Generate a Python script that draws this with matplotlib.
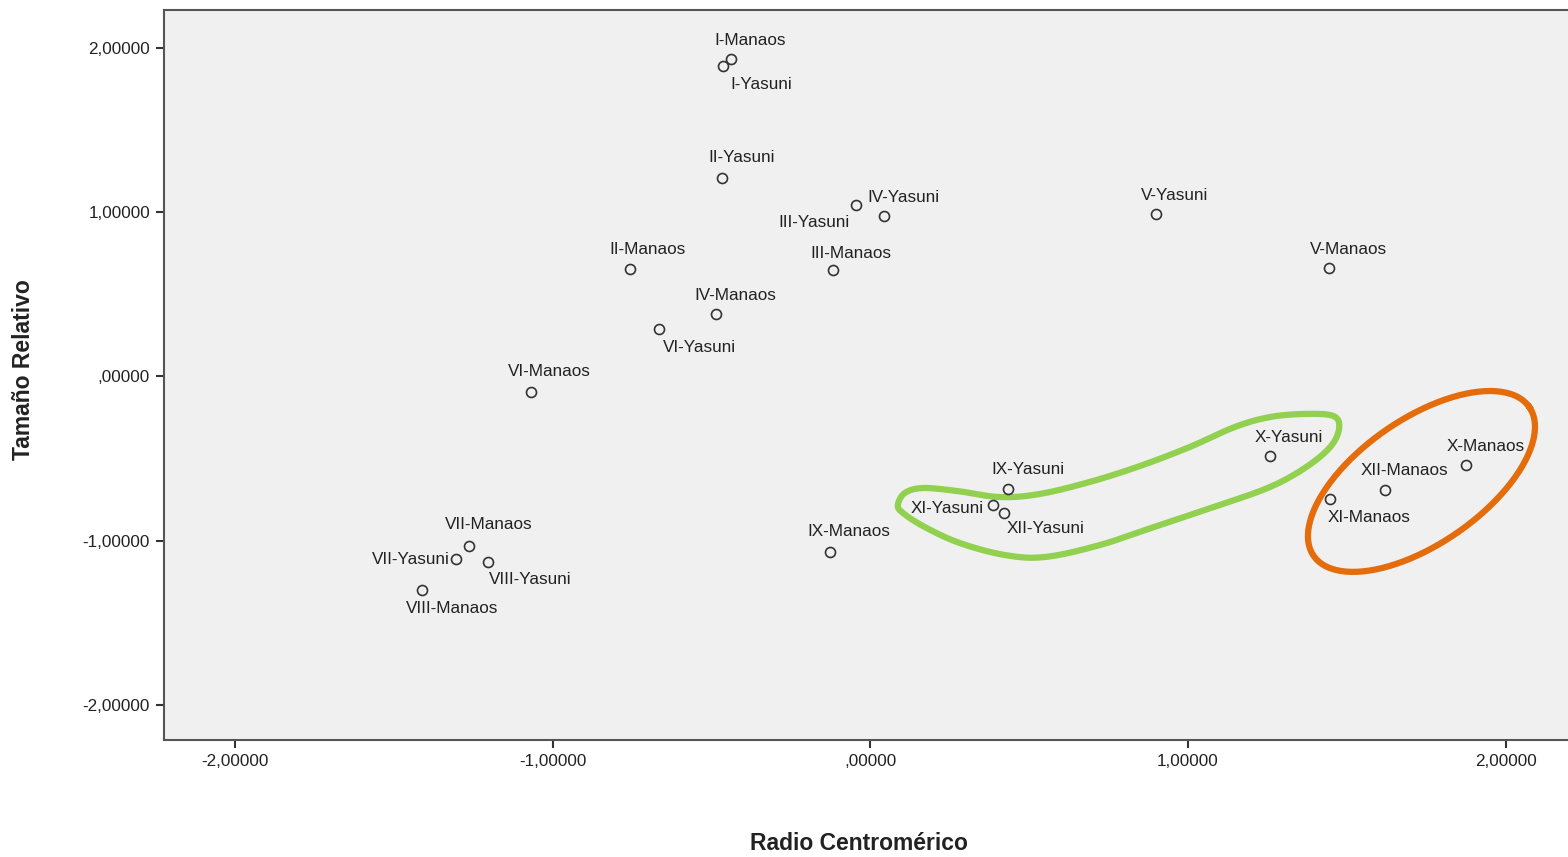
import numpy as np
import matplotlib
matplotlib.use('Agg')
import matplotlib.pyplot as plt
from matplotlib.ticker import FuncFormatter

plt.rcParams['font.family'] = ['Liberation Sans', 'DejaVu Sans']

# cromosomas y sus valores
etiquetas = ['I-Manaos', 'I-Yasuni', 'II-Yasuni', 'III-Yasuni', 'IV-Yasuni', 'III-Manaos',
             'V-Yasuni', 'V-Manaos', 'II-Manaos', 'IV-Manaos', 'VI-Yasuni', 'VI-Manaos',
             'IX-Manaos', 'IX-Yasuni', 'XI-Yasuni', 'XII-Yasuni', 'X-Yasuni', 'X-Manaos',
             'XII-Manaos', 'XI-Manaos', 'VII-Manaos', 'VII-Yasuni', 'VIII-Yasuni', 'VIII-Manaos']
radio = [-0.439, -0.465, -0.466, -0.046, 0.044, -0.118,
         0.899, 1.444, -0.756, -0.486, -0.664, -1.068,
         -0.127, 0.433, 0.385, 0.421, 1.258, 1.875,
         1.620, 1.447, -1.263, -1.304, -1.203, -1.412]
tamano = [1.931, 1.890, 1.210, 1.044, 0.977, 0.648,
          0.989, 0.659, 0.654, 0.381, 0.287, -0.094,
          -1.067, -0.685, -0.782, -0.829, -0.484, -0.539,
          -0.691, -0.746, -1.030, -1.111, -1.128, -1.300]

# desplazamiento de cada etiqueta (pixeles, x derecha / y abajo)
desp = {'I-Manaos': (19, -19), 'I-Yasuni': (39, 18), 'II-Yasuni': (19, -20),
        'III-Yasuni': (-42, 18), 'IV-Yasuni': (19, -18), 'III-Manaos': (18, -17),
        'V-Yasuni': (19, -19), 'V-Manaos': (19, -19), 'II-Manaos': (17, -20),
        'IV-Manaos': (19, -18), 'VI-Yasuni': (40, 18), 'VI-Manaos': (18, -20),
        'IX-Manaos': (19, -20), 'IX-Yasuni': (20, -20), 'XI-Yasuni': (-45, 4),
        'XII-Yasuni': (42, 16), 'X-Yasuni': (19, -18), 'X-Manaos': (20, -19),
        'XII-Manaos': (19, -19), 'XI-Manaos': (39, 18), 'VII-Manaos': (20, -21),
        'VII-Yasuni': (-45, 1), 'VIII-Yasuni': (42, 18), 'VIII-Manaos': (30, 18)}

# contorno verde (grupo Yasuni IX-XII)
verde_x = [0.087, 0.109, 0.166, 0.273, 0.408, 0.534, 0.691, 0.849, 1.006, 1.148, 1.258, 1.368,
           1.457, 1.476, 1.448, 1.368, 1.258, 1.101, 0.912, 0.723, 0.550, 0.424, 0.282, 0.172, 0.103]
verde_y = [-0.782, -0.709, -0.679, -0.697, -0.734, -0.715, -0.642, -0.545, -0.429, -0.307, -0.247, -0.228,
           -0.240, -0.313, -0.429, -0.557, -0.673, -0.782, -0.904, -1.026, -1.099, -1.087, -1.014, -0.917, -0.831]


def catmull_cerrado(xs, ys, n=20):
    p = np.column_stack([xs, ys])
    k = len(p)
    out = []
    for i in range(k):
        p0, p1, p2, p3 = p[i - 1], p[i], p[(i + 1) % k], p[(i + 2) % k]
        t = np.linspace(0, 1, n, endpoint=False)[:, None]
        out.append(0.5 * ((2 * p1) + (-p0 + p2) * t + (2 * p0 - 5 * p1 + 4 * p2 - p3) * t ** 2
                          + (-p0 + 3 * p1 - 3 * p2 + p3) * t ** 3))
    out = np.vstack(out)
    return np.vstack([out, out[:1]])


fig = plt.figure(figsize=(15.68, 8.57), dpi=100, facecolor='white')
ax = fig.add_axes([164 / 1568, 1 - 740 / 857, (1580 - 164) / 1568, 730 / 857])
ax.set_facecolor('#f0f0f0')
ax.set_xlim(-2.223, 2.234)
ax.set_ylim(-2.213, 2.231)

ax.plot(radio, tamano, 'o', ms=7.2, mfc='none', mec='#333333', mew=1.2, zorder=3)

for nom, x, y in zip(etiquetas, radio, tamano):
    dx, dy = desp[nom]
    ax.annotate(nom, (x, y), xytext=(dx, -dy), textcoords='offset pixels',
                ha='center', va='center', fontsize=12.3, color='#222222', zorder=4)

# contornos dibujados a mano
c = catmull_cerrado(verde_x, verde_y)
ax.plot(c[:, 0], c[:, 1], color='#92d050', lw=4.5, solid_capstyle='round', zorder=2)

# elipse naranja (grupo Manaos X-XII), en pixeles de pantalla
centro = ax.transData.transform((1.735, -0.639))
ang = np.deg2rad(34.6)
t = np.linspace(0, 2 * np.pi, 200)
u, v = 131 * np.cos(t), 62.5 * np.sin(t)
px = centro[0] + u * np.cos(ang) - v * np.sin(ang)
py = centro[1] + u * np.sin(ang) + v * np.cos(ang)
el = ax.transData.inverted().transform(np.column_stack([px, py]))
ax.plot(el[:, 0], el[:, 1], color='#e46c0a', lw=4.5, zorder=2)

ticks = [-2, -1, 0, 1, 2]
fmt = FuncFormatter(lambda v, p: ('%.5f' % v).replace('.', ',').replace('0,', ',', 1)
                    if abs(v) < 1e-9 else ('%.5f' % v).replace('.', ','))
ax.set_xticks(ticks)
ax.set_yticks(ticks)
ax.xaxis.set_major_formatter(fmt)
ax.yaxis.set_major_formatter(fmt)
ax.tick_params(direction='out', length=6, width=1.5, color='#333333',
               labelsize=12.3, labelcolor='#222222', pad=4)

for s in ['top', 'left', 'bottom']:
    ax.spines[s].set_color('#555555')
    ax.spines[s].set_linewidth(1.5)
ax.spines['right'].set_visible(False)

fig.text(859 / 1568, 1 - 844 / 857, 'Radio Centromérico', ha='center', va='center',
         fontsize=16.5, fontweight='bold', color='#222222')
fig.text(24 / 1568, 1 - 370 / 857, 'Tamaño Relativo', ha='center', va='center',
         rotation=90, fontsize=16.5, fontweight='bold', color='#222222')

fig.savefig('out.png', dpi=100, facecolor='white')
